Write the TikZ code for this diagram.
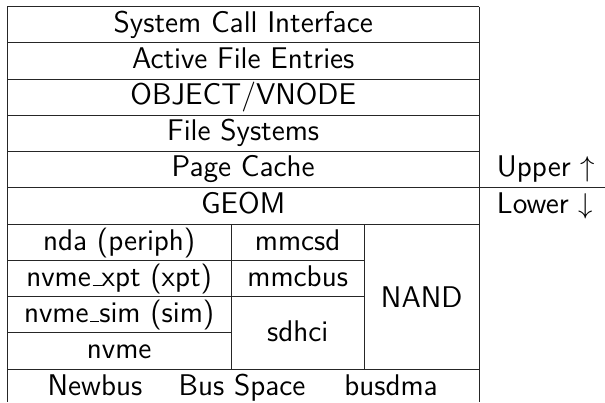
\documentclass[tikz,border=0pt]{standalone}
\newcommand\usc{\leavevmode\kern.06em\vbox{\hrule width.3em}}
\begin{document}
\begin{tikzpicture}[x=0.418pt,y=-0.418pt]
\tikzset{cell/.style={font=\sffamily\fontsize{12.5}{15}\selectfont, inner sep=0pt, anchor=base},
  side/.style={cell, anchor=base west},
  rule/.style={line width=0.4pt, draw=black!85}}
\useasboundingbox (0,0) rectangle (605,402);
% upper rows
\node[cell] (sci) at (243.2,32.2) {System Call Interface};
\node[cell] (afe) at (243.2,68.5) {Active File Entries};
\node[cell] (obj) at (243.2,104.5) {OBJECT/VNODE};
\node[cell] (fs) at (243.2,140.8) {File Systems};
\node[cell] (pc) at (243.2,176.8) {Page Cache};
\node[cell] (geom) at (243.2,213.8) {GEOM};
\node[side] (up) at (496.5,176.8) {Upper $\uparrow$};
\node[side] (low) at (496.5,213.8) {Lower $\downarrow$};
% driver columns
\node[cell] (nda) at (119.2,250.1) {nda (periph)};
\node[cell] (xpt) at (119.2,286.4) {nvme\usc xpt (xpt)};
\node[cell] (sim) at (119.2,322.2) {nvme\usc sim (sim)};
\node[cell] (nvme) at (119.2,358.5) {nvme};
\node[cell] (mmcsd) at (297.7,250.1) {mmcsd};
\node[cell] (mmcbus) at (297.7,286.4) {mmcbus};
\node[cell] (sdhci) at (297.7,341.5) {sdhci};
\node[cell] (nand) at (421.7,307.5) {NAND};
% bus row
\node[cell] (newbus) at (95,395) {Newbus};
\node[cell] (bspace) at (242,395) {Bus Space};
\node[cell] (busdma) at (391,395) {busdma};
% rules
\path[rule] (7.3,6.7) -- (7.3,402);
\path[rule] (479,6.7) -- (479,402);
\path[rule] (231,224.3) -- (231,369);
\path[rule] (364.3,224.3) -- (364.3,369);
\foreach \y in {6.7,42.7,79,115,151.3,224.3,369}
  \path[rule] (7.3,\y) -- (479,\y);
\path[rule] (7.3,187.3) -- (605,187.3);
\path[rule] (7.3,260.6) -- (364.3,260.6);
\path[rule] (7.3,296.9) -- (364.3,296.9);
\path[rule] (7.3,332.7) -- (231,332.7);
\end{tikzpicture}
\end{document}
